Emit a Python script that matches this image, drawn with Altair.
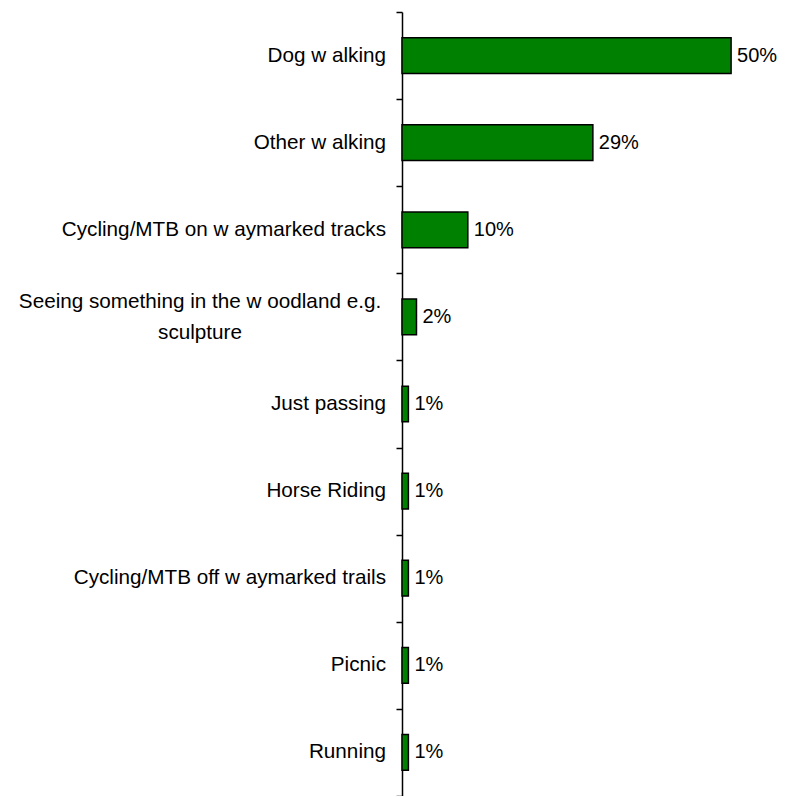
import altair as alt
import pandas as pd

categories = [
    "Dog w alking",
    "Other w alking",
    "Cycling/MTB on w aymarked tracks",
    "Seeing something in the w oodland e.g. sculpture",
    "Just passing",
    "Horse Riding",
    "Cycling/MTB off w aymarked trails",
    "Picnic",
    "Running",
]
display_labels = [
    "Dog w alking",
    "Other w alking",
    "Cycling/MTB on w aymarked tracks",
    "Seeing something in the w oodland e.g.\nsculpture",
    "Just passing",
    "Horse Riding",
    "Cycling/MTB off w aymarked trails",
    "Picnic",
    "Running",
]
values = [0.50, 0.29, 0.10, 0.022, 0.0097, 0.0097, 0.0097, 0.0097, 0.0097]
value_labels = ["50%", "29%", "10%", "2%", "1%", "1%", "1%", "1%", "1%"]

df = pd.DataFrame({
    "category": categories,
    "label": display_labels,
    "value": values,
    "vlabel": value_labels,
    "multi": ["\n" in s for s in display_labels],
})

FONT = "Liberation Sans"

y = alt.Y(
    "category:N",
    sort=categories,
    scale=alt.Scale(paddingInner=0, paddingOuter=0),
    axis=alt.Axis(
        labels=False, title=None, tickBand="extent", tickSize=6,
        domainColor="black", tickColor="black", domainWidth=1.5, tickWidth=1.5,
    ),
)
x = alt.X("value:Q", scale=alt.Scale(domain=[0, 0.55]), axis=None)
ysimple = alt.Y("category:N", sort=categories)

base = alt.Chart(df)

bars = base.mark_bar(
    color="#008000", stroke="black", strokeWidth=1.5,
    height=alt.RelativeBandSize(0.41),
).encode(x=x, y=y)

vals = base.mark_text(align="left", baseline="middle", dx=6, fontSize=20, font=FONT, color="black").encode(
    x=x, y=ysimple, text="vlabel:N"
)

single = base.transform_filter("!datum.multi").mark_text(
    align="right", baseline="middle", fontSize=20.7, font=FONT, color="black"
).encode(x=alt.value(-16), y=ysimple, text="label:N")

multi = base.transform_filter("datum.multi").mark_text(
    align="center", baseline="middle", fontSize=20.7, font=FONT, color="black",
    lineBreak="\n", lineHeight=31, dy=-15,
).encode(x=alt.value(-202), y=ysimple, text="label:N")

chart = alt.layer(bars, vals, single, multi).properties(
    width=362, height=784,
    autosize=alt.AutoSizeParams(type="none"),
    padding={"left": 394, "top": 4, "right": 13, "bottom": 0},
).configure_view(stroke=None)

chart.save("out.html", embed_options={"renderer": "svg", "actions": False})
